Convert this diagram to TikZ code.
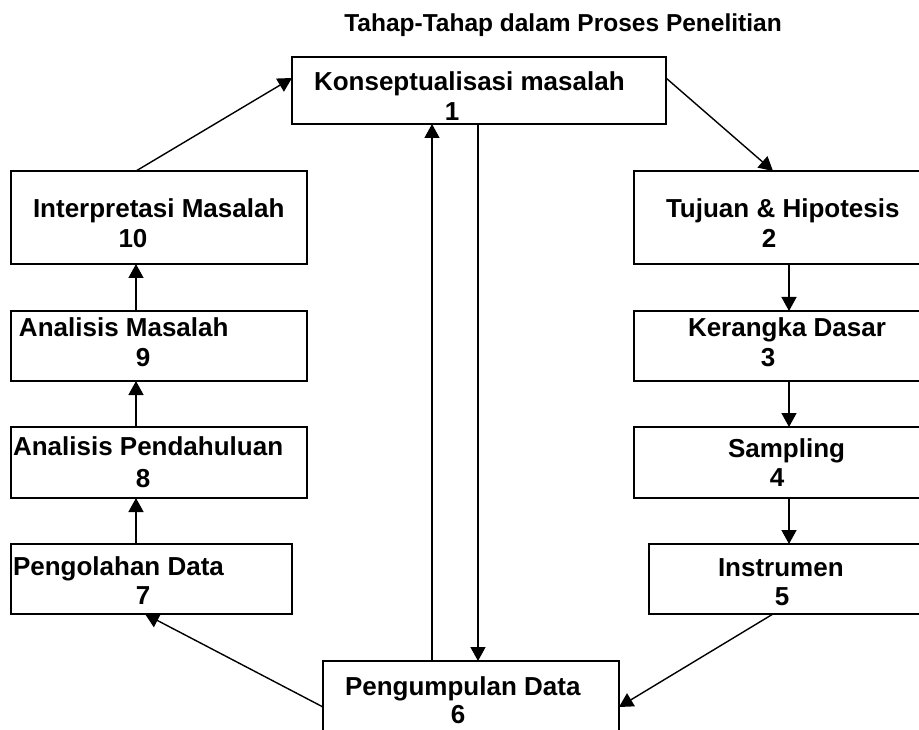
\documentclass[tikz,border=0pt]{standalone}
\usepackage{fontspec}
\setmainfont{Liberation Sans}
\usetikzlibrary{arrows.meta}
\begin{document}
\begin{tikzpicture}[x=1pt,y=-1pt,
  stepbox/.style={draw=black,line width=1.8pt,rectangle,inner sep=0pt,outer sep=0pt},
  lbl/.style={inner sep=0pt,outer sep=0pt,anchor=base west,font=\fontsize{26}{30}\selectfont\bfseries},
  num/.style={inner sep=0pt,outer sep=0pt,anchor=base,font=\fontsize{26}{30}\selectfont\bfseries},
  conn/.style={line width=1.4pt,-{Triangle[length=14pt,width=15pt]}},
  plain/.style={line width=1.4pt}]
% page area
\fill[white] (0,0) rectangle (919,730);
\clip (0,0) rectangle (919,730);

% title
\node[inner sep=0pt,anchor=base,font=\fontsize{24.5}{28}\selectfont\bfseries] (title) at (563,32) {Tahap-Tahap dalam Proses Penelitian};

% process boxes
\node[stepbox,minimum width=374pt,minimum height=67pt] (b1) at (479,90.5) {};
\node[stepbox,minimum width=326pt,minimum height=93pt] (b2) at (797,217.5) {};
\node[stepbox,minimum width=326pt,minimum height=70pt] (b3) at (797,346) {};
\node[stepbox,minimum width=326pt,minimum height=71pt] (b4) at (797,462.5) {};
\node[stepbox,minimum width=311pt,minimum height=70pt] (b5) at (804.5,579) {};
\node[stepbox,minimum width=296pt,minimum height=99pt] (b6) at (471,710.5) {};
\node[stepbox,minimum width=281pt,minimum height=70pt] (b7) at (151.5,579) {};
\node[stepbox,minimum width=296pt,minimum height=71pt] (b8) at (159,462.5) {};
\node[stepbox,minimum width=296pt,minimum height=70pt] (b9) at (159,346) {};
\node[stepbox,minimum width=296pt,minimum height=93pt] (b10) at (159,217.5) {};

% box texts
\node[lbl] (t1) at (314,91) {Konseptualisasi masalah};
\node[num] (n1) at (452,121) {1};
\node[lbl] (t2) at (666,218) {Tujuan \& Hipotesis};
\node[num] (n2) at (769,248) {2};
\node[lbl] (t3) at (688,337) {Kerangka Dasar};
\node[num] (n3) at (768,366) {3};
\node[lbl] (t4) at (728,457) {Sampling};
\node[num] (n4) at (777,486) {4};
\node[lbl] (t5) at (718,576) {Instrumen};
\node[num] (n5) at (782,605) {5};
\node[lbl] (t6) at (345,695) {Pengumpulan Data};
\node[num] (n6) at (458,723) {6};
\node[lbl] (t7) at (13,575) {Pengolahan Data};
\node[num] (n7) at (143,604) {7};
\node[lbl] (t8) at (13,455) {Analisis Pendahuluan};
\node[num] (n8) at (143,487) {8};
\node[lbl] (t9) at (19,337) {Analisis Masalah};
\node[num] (n9) at (143,366) {9};
\node[lbl] (t10) at (33,218) {Interpretasi Masalah};
\node[num] (n10) at (133,248) {10};

% connectors
\draw[conn] ([yshift=12.5pt]b1.east) -- ([xshift=-24pt]b2.north);
\draw[conn] ([xshift=-8pt]b2.south) -- ([xshift=-8pt]b3.north);
\draw[conn] ([xshift=-8pt]b3.south) -- ([xshift=-8pt]b4.north);
\draw[conn] ([xshift=-8pt]b4.south) -- ([xshift=-15.5pt]b5.north);
\draw[conn] ([xshift=-31.5pt]b5.south) -- ([yshift=3.5pt]b6.east);
\draw[conn] ([xshift=-1pt]b1.south) -- ([xshift=7pt]b6.north);
\draw[conn] ([xshift=-39pt]b6.north) -- ([xshift=-47pt]b1.south);
\draw[conn] ([yshift=3.5pt]b6.west) -- ([xshift=-6.5pt]b7.south);
\draw[conn] ([xshift=-15.5pt]b7.north) -- ([xshift=-23pt]b8.south);
\draw[conn] ([xshift=-23pt]b8.north) -- ([xshift=-23pt]b9.south);
\draw[conn] ([xshift=-23pt]b9.north) -- ([xshift=-23pt]b10.south);
\draw[conn] ([xshift=-23pt]b10.north) -- ([yshift=12.5pt]b1.west);
\end{tikzpicture}
\end{document}
